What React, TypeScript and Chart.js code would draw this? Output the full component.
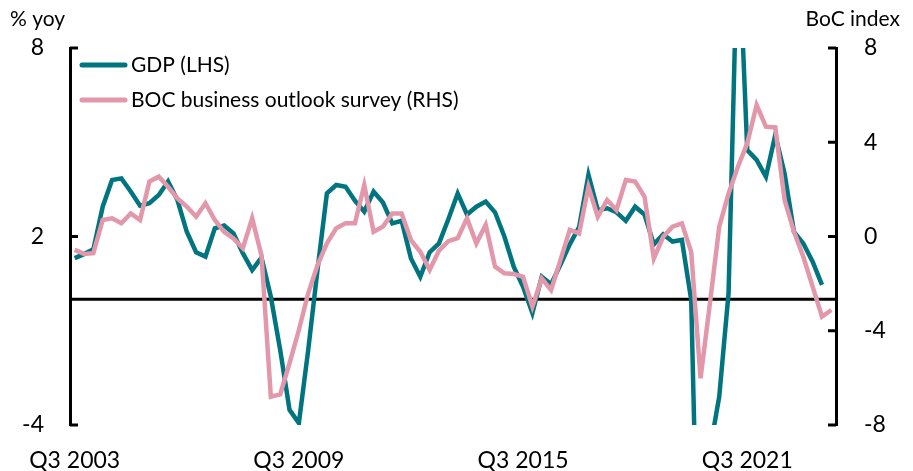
import React, { useEffect, useRef } from "react";
import { Chart, registerables } from "chart.js";

Chart.register(...registerables);

const START_YEAR = 2003;
const START_QUARTER = 3;
const N_QUARTERS = 82;

const TICK_LABELS = ["Q3 2003", "Q3 2009", "Q3 2015", "Q3 2021"];

const gdpYoY: (number | null)[] = [
  1.31, 1.44, 1.59, 2.95, 3.8, 3.85, 3.43, 2.98, 3.06, 3.32,
  3.75, 3.16, 2.15, 1.5, 1.36, 2.26, 2.35, 2.1, 1.47, 0.93,
  1.33, 0.08, -1.61, -3.52, -3.94, -1.61, 0.95, 3.37, 3.64, 3.58,
  3.14, 2.79, 3.43, 3.08, 2.42, 2.5, 1.3, 0.72, 1.5, 1.78,
  2.55, 3.37, 2.7, 2.95, 3.11, 2.77, 2.0, 1.04, 0.4, -0.44,
  0.72, 0.48, 1.1, 1.75, 2.3, 3.96, 2.84, 2.9, 2.77, 2.5,
  2.95, 2.7, 1.75, 2.07, 1.84, 1.89, -0.02, -12.5, -4.8, -3.1,
  0.2, 12.0, 4.75, 4.44, 3.9, 5.23, 4.0, 2.15, 1.78, 1.2,
  0.46, null,
];

const bosIndex: number[] = [
  -0.57, -0.74, -0.71, 0.7, 0.77, 0.56, 0.98, 0.7, 2.33, 2.54,
  2.11, 1.62, 1.27, 0.84, 1.41, 0.7, 0.2, -0.08, -0.5, 0.77,
  -0.8, -6.8, -6.7, -5.38, -3.97, -2.41, -1.21, -0.29, 0.35, 0.56,
  0.56, 2.18, 0.2, 0.42, 0.98, 0.98, -0.15, -0.65, -1.42, -0.6,
  -0.2, -0.07, 0.77, -0.29, 0.49, -1.28, -1.56, -1.59, -1.71, -2.98,
  -1.78, -2.27, -1.0, 0.28, 0.13, 2.11, 0.84, 1.55, 1.12, 2.4,
  2.33, 1.69, -0.93, -0.01, 0.42, 0.56, -0.65, -6.02, -2.84, 0.42,
  1.83, 2.96, 3.96, 5.58, 4.66, 4.63, 1.55, 0.2, -0.86, -2.13,
  -3.4, -3.12,
];

const quarters: string[] = [];
for (let i = 0; i < N_QUARTERS; i++) {
  const q0 = START_QUARTER - 1 + i;
  quarters.push(`Q${(q0 % 4) + 1} ${START_YEAR + Math.floor(q0 / 4)}`);
}

const TEAL = "#00757F";
const PINK = "#E397AA";
const FONT = "Lato";

const SERIES_NAMES = ["GDP (LHS)", "BOC business outlook survey (RHS)"];

const decorPlugin = {
  id: "decor",
  beforeDatasetsDraw(chart: any) {
    const { ctx, chartArea, scales } = chart;
    const y0 = scales.yL.getPixelForValue(0);
    ctx.save();
    ctx.strokeStyle = "#000";
    ctx.lineWidth = 3;
    ctx.beginPath();
    ctx.moveTo(chartArea.left, y0);
    ctx.lineTo(chartArea.right, y0);
    ctx.stroke();
    ctx.restore();
  },
  afterDraw(chart: any) {
    const { ctx, chartArea, scales } = chart;
    ctx.save();
    ctx.strokeStyle = "#000";
    ctx.lineWidth = 3;
    const len = 8;
    scales.yL.ticks.forEach((t: any) => {
      const y = scales.yL.getPixelForValue(t.value);
      ctx.beginPath();
      ctx.moveTo(chartArea.left, y);
      ctx.lineTo(chartArea.left + len, y);
      ctx.stroke();
    });
    scales.yR.ticks.forEach((t: any) => {
      const y = scales.yR.getPixelForValue(t.value);
      ctx.beginPath();
      ctx.moveTo(chartArea.right, y);
      ctx.lineTo(chartArea.right - len, y);
      ctx.stroke();
    });
    // axis titles
    ctx.fillStyle = "#000";
    ctx.font = `21px ${FONT}`;
    ctx.textBaseline = "middle";
    ctx.textAlign = "left";
    ctx.fillText("% yoy", 10, 19);
    ctx.textAlign = "right";
    ctx.fillText("BoC index", 900, 19);
    // legend
    const items = [
      { color: TEAL, text: SERIES_NAMES[0], y: 65 },
      { color: PINK, text: SERIES_NAMES[1], y: 100 },
    ];
    ctx.textAlign = "left";
    ctx.lineCap = "round";
    items.forEach((it) => {
      ctx.strokeStyle = it.color;
      ctx.lineWidth = 5;
      ctx.beginPath();
      ctx.moveTo(82, it.y);
      ctx.lineTo(125, it.y);
      ctx.stroke();
      ctx.fillStyle = "#000";
      ctx.fillText(it.text, 131, it.y);
    });
    ctx.restore();
  },
};

export default function App() {
  const ref = useRef<HTMLCanvasElement | null>(null);
  useEffect(() => {
    if (!ref.current) return;
    const chart = new Chart(ref.current, {
      type: "line",
      data: {
        labels: quarters,
        datasets: [
          {
            label: SERIES_NAMES[0],
            data: gdpYoY,
            yAxisID: "yL",
            borderColor: TEAL,
            borderWidth: 4.5,
            pointRadius: 0,
            tension: 0,
            order: 2,
          },
          {
            label: SERIES_NAMES[1],
            data: bosIndex,
            yAxisID: "yR",
            borderColor: PINK,
            borderWidth: 4.5,
            pointRadius: 0,
            tension: 0,
            order: 1,
          },
        ],
      },
      options: {
        animation: false,
        responsive: false,
        maintainAspectRatio: false,
        layout: { padding: { top: 48, left: 0, right: 0, bottom: 0 } },
        plugins: { legend: { display: false }, tooltip: { enabled: false } },
        scales: {
          x: {
            type: "category",
            offset: true,
            grid: { display: false, drawTicks: false },
            border: { display: false },
            ticks: {
              autoSkip: false,
              maxRotation: 0,
              minRotation: 0,
              padding: 22,
              color: "#000",
              font: { family: FONT, size: 23 },
              callback: (_v: any, i: number) =>
                TICK_LABELS.includes(quarters[i]) ? quarters[i] : null,
            },
            afterFit: (s: any) => {
              s.height = 46;
            },
          },
          yL: {
            position: "left",
            min: -4,
            max: 8,
            grid: { display: false, drawTicks: false },
            border: { display: true, color: "#000", width: 3 },
            ticks: {
              stepSize: 6,
              padding: 26,
              color: "#000",
              font: { family: FONT, size: 23 },
            },
            afterFit: (s: any) => {
              s.width = 70;
            },
          },
          yR: {
            position: "right",
            min: -8,
            max: 8,
            grid: { display: false, drawTicks: false },
            border: { display: true, color: "#000", width: 3 },
            ticks: {
              stepSize: 4,
              padding: 28,
              color: "#000",
              font: { family: FONT, size: 23 },
            },
            afterFit: (s: any) => {
              s.width = 77;
            },
          },
        },
      },
      plugins: [decorPlugin],
    });
    return () => chart.destroy();
  }, []);
  return (
    <div style={{ position: "fixed", left: 0, top: 0, width: 913, height: 471, background: "#fff" }}>
      <canvas ref={ref} width={913} height={471} />
    </div>
  );
}
